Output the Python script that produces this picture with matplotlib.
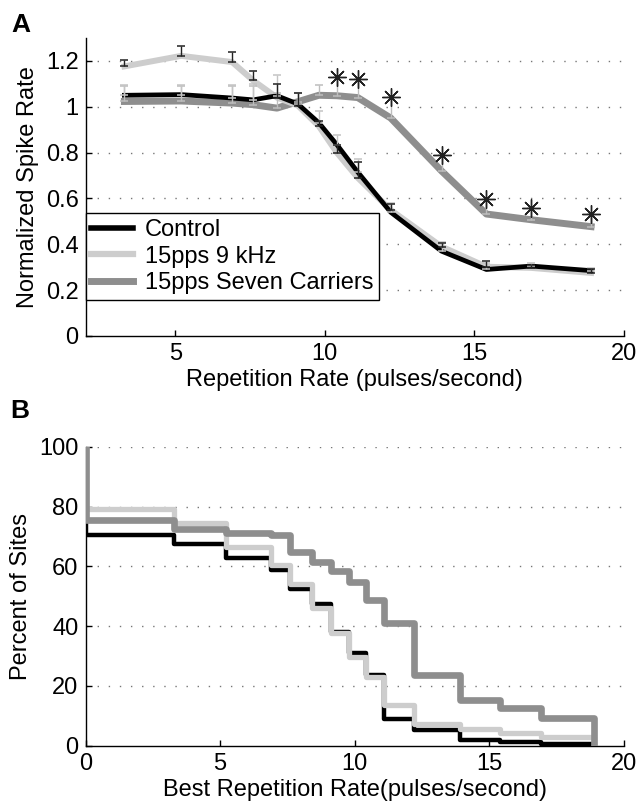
import matplotlib
matplotlib.use('Agg')
import matplotlib.pyplot as plt
from matplotlib.lines import Line2D
import numpy as np

plt.rcParams['font.family'] = ['Liberation Sans', 'DejaVu Sans']

# panel A data
rate = [3.3, 5.2, 6.9, 7.6, 8.4, 9.1, 9.8, 10.4, 11.1, 12.2, 13.9, 15.4, 16.9, 18.9]
control = [1.05, 1.053, 1.038, 1.03, 1.048, 1.012, 0.93, 0.835, 0.715, 0.54, 0.37, 0.29, 0.305, 0.285]
khz9 = [1.176, 1.222, 1.195, 1.115, 1.04, 1.005, 0.915, 0.80, 0.69, 0.55, 0.39, 0.302, 0.297, 0.275]
seven = [1.023, 1.025, 1.016, 1.009, 0.994, 1.022, 1.05, 1.048, 1.04, 0.951, 0.72, 0.532, 0.507, 0.477]
control_top = [1.095, 1.095, 1.095, 1.10, 1.14, 1.06, 0.98, 0.875, 0.77, 0.58, 0.41, 0.32, 0.32, 0.295]
khz9_top = [1.205, 1.263, 1.24, 1.155, 1.10, 1.06, 0.936, 0.834, 0.76, 0.575, 0.405, 0.325, 0.31, 0.29]
seven_top = [1.09, 1.09, 1.09, 1.09, 1.06, 1.06, 1.096, 1.13, 1.122, 1.042, 0.788, 0.596, 0.558, 0.531]
sig = [7, 8, 9, 10, 11, 12, 13]  # points marked with a star

# panel B data (step levels starting at each edge)
edges = [0, 3.3, 5.2, 6.9, 7.6, 8.4, 9.1, 9.8, 10.4, 11.1, 12.2, 13.9, 15.4, 16.9, 18.9]
pct_control = [70.6, 67.6, 62.8, 58.7, 52.4, 47.3, 38.2, 30.9, 23.5, 8.8, 5.2, 1.9, 1.3, 0.6]
pct_khz9 = [79.2, 74.6, 66.6, 60.3, 54.2, 46.0, 37.6, 29.8, 23.1, 13.6, 7.3, 5.5, 4.1, 2.8]
pct_seven = [75.4, 72.5, 71.1, 70.4, 64.8, 61.3, 58.6, 54.6, 48.9, 40.9, 23.6, 15.3, 12.5, 9.2]

names = ['Control', '15pps 9 kHz', '15pps Seven Carriers']
c_black = 'black'
c_light = '#cdcdcd'
c_dark = '#8e8e8e'
fs = 17

fig = plt.figure(figsize=(6.4, 8.08), dpi=100)
axA = fig.add_axes([0.1336, 0.5842, 0.8414, 0.3688])
axB = fig.add_axes([0.1336, 0.0771, 0.8414, 0.3700])

grid_style = dict(color='#777777', linestyle=(0, (1, 7)), linewidth=1.0)

# ---- A ----
axA.plot(rate, seven, color=c_dark, lw=5.0, zorder=2, solid_joinstyle='round')
axA.plot(rate, khz9, color=c_light, lw=4.3, zorder=3, solid_joinstyle='round')
axA.plot(rate, control, color=c_black, lw=3.4, zorder=4, solid_joinstyle='round')

def upper_bars(ax, x, y, top, col):
    err = np.array(top) - np.array(y)
    ax.errorbar(x, y, yerr=[np.zeros(len(err)), err], fmt='none',
                ecolor=col, elinewidth=1.0, capsize=3, capthick=1.1, zorder=5)

upper_bars(axA, rate, seven, seven_top, '#bdbdbd')
upper_bars(axA, rate, control, control_top, '#c4c4c4')
upper_bars(axA, rate, khz9, khz9_top, '#222222')

axA.plot([rate[i] for i in sig], [seven_top[i] for i in sig], linestyle='none',
         marker=(8, 2, 0), ms=13, mew=1.0, color='#222222', zorder=6)

for v in [0.2, 0.4, 0.6, 0.8, 1.0, 1.2]:
    axA.axhline(v, zorder=1, **grid_style)

axA.set_xlim(2, 20)
axA.set_ylim(0, 1.3)
axA.set_xticks([5, 10, 15, 20])
axA.set_yticks([0, 0.2, 0.4, 0.6, 0.8, 1.0, 1.2])
axA.set_yticklabels(['0', '0.2', '0.4', '0.6', '0.8', '1', '1.2'])
axA.set_xlabel('Repetition Rate (pulses/second)', fontsize=fs, labelpad=3)
axA.set_ylabel('Normalized Spike Rate', fontsize=fs, labelpad=5)

handles = [Line2D([], [], color=c_black, lw=4),
           Line2D([], [], color=c_light, lw=4.5),
           Line2D([], [], color=c_dark, lw=5)]
leg = axA.legend(handles, names, loc='upper left', bbox_to_anchor=(0.0, 0.413),
                 borderaxespad=0, fontsize=fs, handlelength=1.75, handletextpad=0.5,
                 labelspacing=0.2, borderpad=0.25, fancybox=False, framealpha=1)
leg.get_frame().set_edgecolor('black')
leg.get_frame().set_linewidth(1.0)
leg.set_zorder(10)

# ---- B ----
def stairs(ax, lev, col, lw, z):
    xs = [0] + edges
    ys = [100] + lev + [0]
    ax.step(xs, ys, where='post', color=col, lw=lw, zorder=z)

stairs(axB, pct_control, c_black, 3.2, 2)
stairs(axB, pct_khz9, c_light, 3.8, 3)
stairs(axB, pct_seven, c_dark, 4.8, 4)

for v in [20, 40, 60, 80, 100]:
    axB.axhline(v, zorder=1, **grid_style)

axB.set_xlim(0, 20)
axB.set_ylim(0, 100)
axB.set_xticks([0, 5, 10, 15, 20])
axB.set_yticks([0, 20, 40, 60, 80, 100])
axB.set_xlabel('Best Repetition Rate(pulses/second)', fontsize=fs, labelpad=3)
axB.set_ylabel('Percent of Sites', fontsize=fs, labelpad=5)

for ax in (axA, axB):
    ax.spines['top'].set_visible(False)
    ax.spines['right'].set_visible(False)
    ax.spines['left'].set_linewidth(1.0)
    ax.spines['bottom'].set_linewidth(1.0)
    ax.tick_params(direction='in', length=4, width=1, labelsize=fs, pad=5)

fig.text(0.018, 0.960, 'A', fontsize=19, fontweight='bold')
fig.text(0.016, 0.483, 'B', fontsize=19, fontweight='bold')

fig.savefig('out.png', dpi=100, facecolor='white')
